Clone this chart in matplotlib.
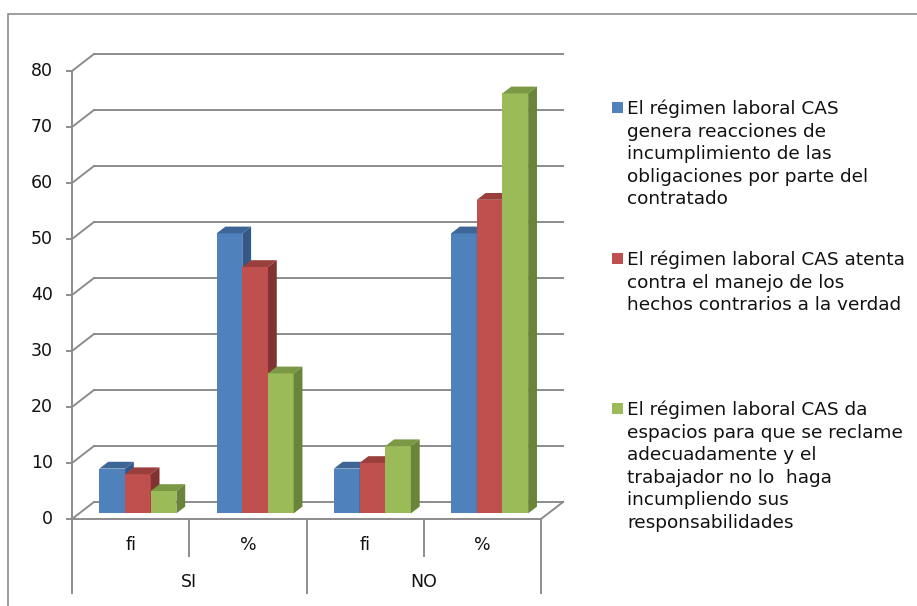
import matplotlib
matplotlib.use("Agg")
import matplotlib.pyplot as plt
from matplotlib.patches import Polygon, Rectangle
from matplotlib.lines import Line2D
import matplotlib.transforms as mtransforms

plt.rcParams['font.family'] = ['DejaVu Sans']

# ---- data ----
groups = ["SI", "NO"]
sub_categories = ["fi", "%", "fi", "%"]
series_labels = [
    "El régimen laboral CAS\ngenera reacciones de\nincumplimiento de las\nobligaciones por parte del\ncontratado",
    "El régimen laboral CAS atenta\ncontra el manejo de los\nhechos contrarios a la verdad",
    "El régimen laboral CAS da\nespacios para que se reclame\nadecuadamente y el\ntrabajador no lo  haga\nincumpliendo sus\nresponsabilidades",
]
series_values = [
    [8, 50, 8, 50],
    [7, 44, 9, 56],
    [4, 25, 12, 75],
]
y_ticks = [0, 10, 20, 30, 40, 50, 60, 70, 80]

# ---- styling ----
front_colors = ["#4F81BD", "#C0504D", "#9BBB59"]
top_colors = ["#3D6696", "#9A3F3C", "#7B9845"]
side_colors = ["#33598A", "#813331", "#6A843A"]
grid_color = "#8C8C8C"

W, H = 917, 606
fig = plt.figure(figsize=(W / 100, H / 100), dpi=100)
ax = fig.add_axes([0, 0, 1, 1])
ax.axis("off")

# pixel layout of the plot box
PX_X = 117.25      # pixels per category
PX_Y = 5.6         # pixels per value unit
X0_PX, Y0_PX = 72, 519
ax.set_xlim(-X0_PX / PX_X, (W - X0_PX) / PX_X)
ax.set_ylim(-(H - Y0_PX) / PX_Y, Y0_PX / PX_Y)

# depth (oblique projection) offsets in data units
DX = 22 / PX_X
DY = 17 / PX_Y


def proj(x, v, d):
    return (x + d * DX, v + d * DY)


n_cat = len(sub_categories)
ymax = max(y_ticks)
lw = 1.4

# back wall gridlines and the diagonal tick connectors
for t in y_ticks:
    ax.add_line(Line2D([DX, n_cat + DX], [t + DY, t + DY], color=grid_color, lw=lw, zorder=1))
    ax.add_line(Line2D([0, DX], [t, t + DY], color=grid_color, lw=lw, zorder=1))
    ax.add_line(Line2D([-5 / PX_X, 0], [t, t], color=grid_color, lw=lw, zorder=1))

# floor edges
ax.add_line(Line2D([0, n_cat], [0, 0], color=grid_color, lw=lw, zorder=1))
ax.add_line(Line2D([n_cat, n_cat + DX], [0, DY], color=grid_color, lw=lw, zorder=1))
# vertical value axis
ax.add_line(Line2D([0, 0], [0, ymax], color=grid_color, lw=lw, zorder=1))

# y tick labels
lab_tr = mtransforms.offset_copy(ax.transData, fig=fig, x=-19, y=0, units="dots")
for t in y_ticks:
    ax.text(0, t, str(t), transform=lab_tr, ha="right", va="center",
            fontsize=12.5, color="#111111")

# category axis (two levels)
inner_len = 37 / PX_Y
outer_len = 74 / PX_Y
for i in range(n_cat + 1):
    length = outer_len if i % 2 == 0 else inner_len
    ax.add_line(Line2D([i, i], [0, -length], color=grid_color, lw=lw, zorder=1))
for i, c in enumerate(sub_categories):
    ax.text(i + 0.5, -26 / PX_Y, c, ha="center", va="center", fontsize=12.5, color="#111111")
for g, name in enumerate(groups):
    ax.text(2 * g + 1, -63 / PX_Y, name, ha="center", va="center", fontsize=12.5, color="#111111")

# 3D columns
n_series = len(series_values)
bar_w = 0.219
d0, d1 = 0.33, 0.73
for i in range(n_cat):
    left0 = i + 0.5 - n_series * bar_w / 2
    for s in range(n_series):
        v = series_values[s][i]
        xl = left0 + s * bar_w
        xr = xl + bar_w
        front = [proj(xl, 0, d0), proj(xr, 0, d0), proj(xr, v, d0), proj(xl, v, d0)]
        top = [proj(xl, v, d0), proj(xr, v, d0), proj(xr, v, d1), proj(xl, v, d1)]
        side = [proj(xr, 0, d0), proj(xr, 0, d1), proj(xr, v, d1), proj(xr, v, d0)]
        z = 3 + s
        ax.add_patch(Polygon(front, closed=True, facecolor=front_colors[s], edgecolor="none", zorder=z))
        ax.add_patch(Polygon(top, closed=True, facecolor=top_colors[s], edgecolor="none", zorder=z))
        ax.add_patch(Polygon(side, closed=True, facecolor=side_colors[s], edgecolor="none", zorder=z))

# legend
leg_first_baseline = [114, 265, 415]
line_pitch = 22.6
for s, label in enumerate(series_labels):
    base = leg_first_baseline[s]
    fig.add_artist(Rectangle((612 / W, 1 - (base - 1) / H), 11 / W, 11 / H,
                             transform=fig.transFigure, facecolor=front_colors[s], edgecolor="none"))
    for k, line in enumerate(label.split("\n")):
        fig.text(627 / W, 1 - (base + k * line_pitch) / H, line, ha="left", va="baseline",
                 fontsize=13.3, color="#111111")

# chart area border
fig.add_artist(Rectangle((8 / W, -0.05), 1.2, 1.05 - 14 / H, transform=fig.transFigure,
                         facecolor="none", edgecolor="#8C8C8C", lw=1.2, clip_on=False))

fig.savefig("out.png", dpi=100)
